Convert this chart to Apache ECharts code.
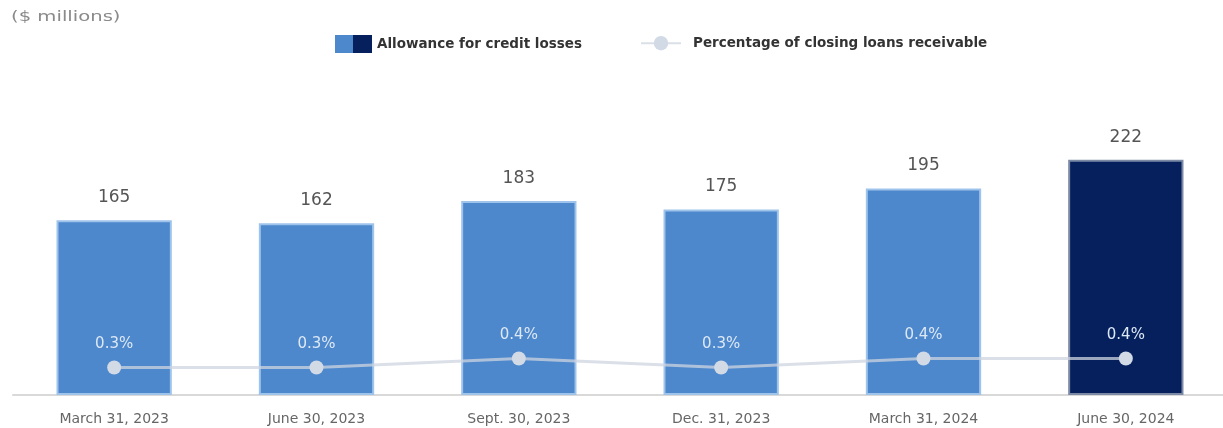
<!DOCTYPE html>
<html>
<head>
<meta charset="utf-8">
<script src="https://cdn.jsdelivr.net/npm/echarts@6/dist/echarts.min.js"></script>
<style>
  html, body { margin: 0; padding: 0; background: #fff; }
  #main { width: 1223px; height: 428px; }
</style>
</head>
<body>
<div id="main"></div>
<script>
// quarter-end dates
var categories = ['March 31, 2023', 'June 30, 2023', 'Sept. 30, 2023', 'Dec. 31, 2023', 'March 31, 2024', 'June 30, 2024'];
// allowance for credit losses, $ millions
var allowance = [165, 162, 183, 175, 195, 222];
// percentage of closing loans receivable
var pctLoans = [0.3, 0.3, 0.4, 0.3, 0.4, 0.4];

var blue = '#4d87cc';
var navy = '#06205e';
var font = 'DejaVu Sans';

var barData = allowance.map(function (v, i) {
  if (i === allowance.length - 1) {
    return { value: v, itemStyle: { color: navy, borderColor: '#7c8aa6' } };
  }
  return v;
});

var legendText = { fontSize: 13.5, fontWeight: 'bold', color: '#333', fontFamily: font };

var chart = echarts.init(document.getElementById('main'));
chart.setOption({
  animation: false,
  textStyle: { fontFamily: font },
  graphic: [{
    type: 'text', left: 11, top: 10, scaleX: 1.4,
    style: { text: '($ millions)', fill: '#8a8a8a', font: '14px "DejaVu Sans"' }
  }],
  legend: [
    {
      top: 30, left: 330,
      itemWidth: 37, itemHeight: 18,
      textStyle: legendText,
      data: [{
        name: 'Allowance for credit losses', icon: 'rect',
        itemStyle: {
          color: new echarts.graphic.LinearGradient(0, 0, 1, 0, [
            { offset: 0, color: blue }, { offset: 0.5, color: blue },
            { offset: 0.5, color: navy }, { offset: 1, color: navy }
          ]),
          borderWidth: 0
        }
      }]
    },
    {
      top: 31, left: 635,
      itemWidth: 40, itemHeight: 18,
      textStyle: Object.assign({ padding: [4, 0, 0, 7] }, legendText),
      data: ['Percentage of closing loans receivable']
    }
  ],
  grid: { left: 13, width: 1214, top: 75, bottom: 33, outerBoundsMode: 'none', containLabel: false },
  xAxis: {
    type: 'category',
    data: categories,
    axisLine: { lineStyle: { color: '#d9d9d9', width: 2 } },
    axisTick: { show: false },
    axisLabel: { color: '#666', fontSize: 14, margin: 17, fontFamily: font }
  },
  yAxis: [
    { type: 'value', min: 0, max: 302, show: false, splitLine: { show: false } },
    { type: 'value', min: 0, max: 3.5, show: false, splitLine: { show: false } }
  ],
  series: [
    {
      name: 'Allowance for credit losses',
      type: 'bar',
      barWidth: '57%',
      data: barData,
      itemStyle: { color: blue, borderColor: '#9fc4ec', borderWidth: 2 },
      label: {
        show: true, position: 'top', distance: 14,
        color: '#555', fontSize: 17, fontFamily: font
      }
    },
    {
      name: 'Percentage of closing loans receivable',
      type: 'line',
      yAxisIndex: 1,
      data: pctLoans,
      symbol: 'circle',
      symbolSize: 14,
      lineStyle: { color: 'rgba(205,212,224,0.75)', width: 3 },
      itemStyle: { color: '#d2dae6' },
      label: {
        show: true, position: 'top', distance: 9,
        color: '#dde8f5', fontSize: 15, fontFamily: font,
        formatter: function (p) { return p.value.toFixed(1) + '%'; }
      },
      z: 5
    }
  ]
});
</script>
</body>
</html>
